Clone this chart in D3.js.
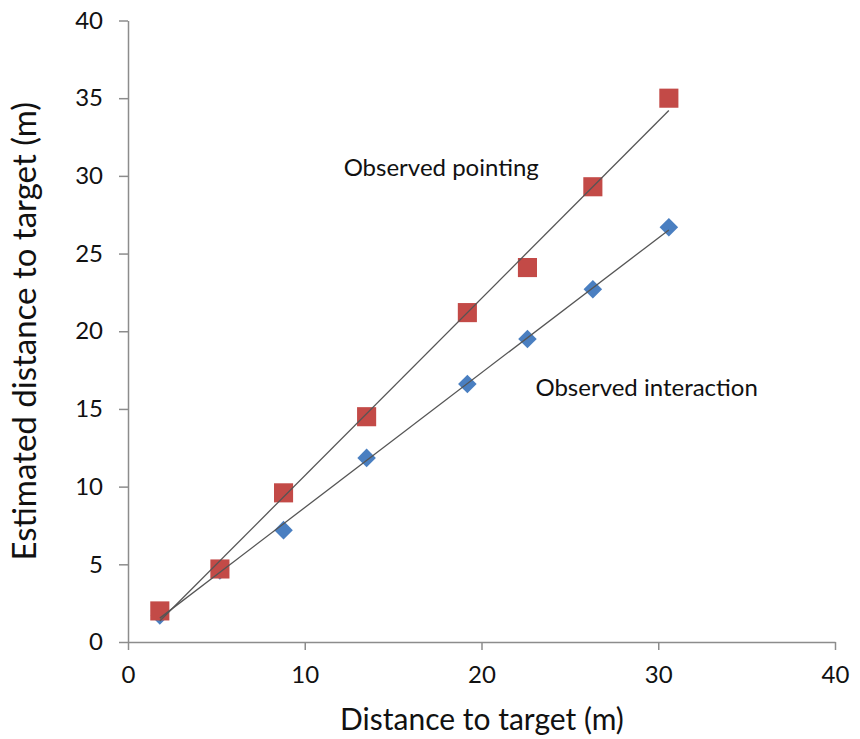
<!DOCTYPE html>
<html><head><meta charset="utf-8">
<script src="https://cdn.jsdelivr.net/npm/d3@7"></script>
<style>body{margin:0;background:#fff}svg{display:block}text{font-family:Lato,"Open Sans",sans-serif}</style>
</head><body><svg id="c" width="860" height="739"></svg>
<script>
const distances = [1.8, 5.2, 8.8, 13.5, 19.2, 22.6, 26.3, 30.6];
const pointingEstimates = [2.0, 4.7, 9.6, 14.5, 21.2, 24.1, 29.3, 35.0];
const interactionEstimates = [1.7, 4.6, 7.2, 11.85, 16.6, 19.5, 22.7, 26.7];
const xTicks = [0, 10, 20, 30, 40];
const yTicks = [0, 5, 10, 15, 20, 25, 30, 35, 40];
const seriesLabels = ["Observed pointing", "Observed interaction"];

const svg = d3.select("#c");
const x = d3.scaleLinear().domain([0, 40]).range([128, 835]);
const y = d3.scaleLinear().domain([0, 40]).range([642, 20.5]);

// axes
const xAxis = svg.append("g").attr("transform", `translate(0,${y(0)})`)
  .call(d3.axisBottom(x).tickValues(xTicks).tickSize(8).tickPadding(16).tickSizeOuter(0));
const yAxis = svg.append("g").attr("transform", `translate(${x(0)},0)`)
  .call(d3.axisLeft(y).tickValues(yTicks).tickSize(9).tickPadding(16).tickSizeOuter(0));
[xAxis, yAxis].forEach(a => {
  a.selectAll("path,line").attr("stroke", "#8c8c8c").attr("stroke-width", 1.5);
  a.selectAll("text").attr("fill", "#111").style("font-size", "24px").style("font-family", "Lato,sans-serif");
});

function regress(xs, ys) {
  const n = xs.length, mx = d3.mean(xs), my = d3.mean(ys);
  let sxy = 0, sxx = 0;
  for (let i = 0; i < n; i++) { sxy += (xs[i]-mx)*(ys[i]-my); sxx += (xs[i]-mx)**2; }
  const b = sxy / sxx; return { b, a: my - b*mx };
}

const series = [
  { vals: interactionEstimates, color: "#4a7fc1", size: 172, rot: 45 },
  { vals: pointingEstimates, color: "#c34a47", size: 365, rot: 0 }
];

series.forEach(s => {
  const pts = distances.map((d, i) => ({ x: d, y: s.vals[i] }));
  svg.append("g").selectAll("path").data(pts).join("path")
    .attr("d", d3.symbol().type(d3.symbolSquare).size(s.size))
    .attr("transform", d => `translate(${x(d.x)},${y(d.y)}) rotate(${s.rot})`)
    .attr("fill", s.color);
});

// trendlines
[pointingEstimates, interactionEstimates].forEach(vals => {
  const r = regress(distances, vals);
  const x0 = d3.min(distances), x1 = d3.max(distances);
  svg.append("line")
    .attr("x1", x(x0)).attr("y1", y(r.a + r.b*x0))
    .attr("x2", x(x1)).attr("y2", y(r.a + r.b*x1))
    .attr("stroke", "#555").attr("stroke-width", 1.3);
});

// annotations
svg.append("text").attr("x", x(12.2)).attr("y", 176)
  .style("font-size", "24px").attr("fill", "#111").text(seriesLabels[0]);
svg.append("text").attr("x", x(23.05)).attr("y", 396)
  .style("font-size", "24px").attr("fill", "#111").text(seriesLabels[1]);

// axis titles
svg.append("text").attr("x", 482).attr("y", 730).attr("text-anchor", "middle")
  .style("font-size", "30px").attr("fill", "#111").text("Distance to target (m)");
svg.append("text").attr("transform", `translate(36,${y(20)}) rotate(-90)`).attr("text-anchor", "middle")
  .style("font-size", "33px").attr("fill", "#111").text("Estimated distance to target (m)");
</script></body></html>
